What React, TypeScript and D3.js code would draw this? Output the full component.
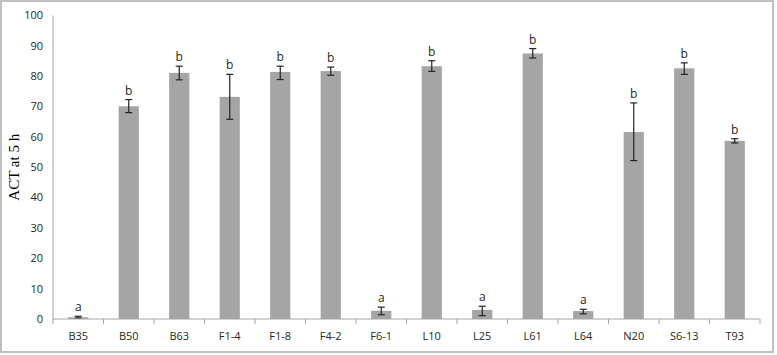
import React, { useEffect } from 'react';
import * as d3 from 'd3';

const categories = ['B35', 'B50', 'B63', 'F1-4', 'F1-8', 'F4-2', 'F6-1', 'L10', 'L25', 'L61', 'L64', 'N20', 'S6-13', 'T93'];
const means = [0.6, 70.1, 81.1, 73.2, 81.4, 81.7, 2.7, 83.3, 3.0, 87.5, 2.6, 61.6, 82.6, 58.7];
const errLow = [0.3, 68.0, 78.8, 65.8, 78.9, 80.3, 1.4, 81.6, 1.1, 86.0, 1.7, 52.2, 80.6, 58.0];
const errHigh = [0.9, 72.3, 83.3, 80.6, 83.3, 83.0, 3.9, 85.1, 4.2, 89.1, 3.2, 71.2, 84.4, 59.4];
const letters = ['a', 'b', 'b', 'b', 'b', 'b', 'a', 'b', 'a', 'b', 'a', 'b', 'b', 'b'];
const yTicks = [0, 10, 20, 30, 40, 50, 60, 70, 80, 90, 100];

const W = 777;
const H = 355;
const margin = { left: 53, right: 17, top: 15.5, bottom: 36 };

export default function App() {
  useEffect(() => {
    document.body.style.margin = '0';
  }, []);

  const x = d3.scaleBand<string>()
    .domain(categories)
    .range([margin.left, W - margin.right])
    .paddingInner(0.6)
    .paddingOuter(0.3);
  const y = d3.scaleLinear().domain([0, 100]).range([H - margin.bottom, margin.top]);

  const step = x.step();
  const x0 = margin.left;
  const x1 = W - margin.right;
  const y0 = y(0);
  const axisColor = '#a6a6a6';
  const sans = '"Open Sans", "Noto Sans", sans-serif';

  return (
    <svg width={W} height={H} style={{ display: 'block' }}>
      <rect x={0} y={0} width={W} height={H} fill="#fff" />
      <rect x={1} y={1} width={772} height={351} fill="none" stroke="#bfbfbf" strokeWidth={2} />

      {/* bars */}
      {categories.map((c, i) => (
        <rect key={c} x={x(c)} y={y(means[i])} width={x.bandwidth()} height={y0 - y(means[i])} fill="#a5a5a5" />
      ))}

      {/* error bars */}
      {categories.map((c, i) => {
        const cx = (x(c) as number) + x.bandwidth() / 2;
        return (
          <g key={c} stroke="#222" strokeWidth={1.2}>
            <line x1={cx} x2={cx} y1={y(errLow[i])} y2={y(errHigh[i])} />
            <line x1={cx - 3.5} x2={cx + 3.5} y1={y(errLow[i])} y2={y(errLow[i])} />
            <line x1={cx - 3.5} x2={cx + 3.5} y1={y(errHigh[i])} y2={y(errHigh[i])} />
          </g>
        );
      })}

      {/* significance letters */}
      {categories.map((c, i) => (
        <text key={c} x={(x(c) as number) + x.bandwidth() / 2} y={y(errHigh[i]) - 5}
          textAnchor="middle" fontFamily={sans} fontSize={12} fill="#262626">{letters[i]}</text>
      ))}

      {/* y axis */}
      <line x1={x0} x2={x0} y1={y(100)} y2={y0} stroke={axisColor} strokeWidth={1} />
      {yTicks.map(t => (
        <text key={t} x={43} y={y(t)} dy="0.35em" textAnchor="end" fontFamily={sans} fontSize={11} fill="#262626">{t}</text>
      ))}

      {/* x axis */}
      <line x1={x0} x2={x1} y1={y0} y2={y0} stroke={axisColor} strokeWidth={1} />
      {d3.range(categories.length + 1).map(k => (
        <line key={k} x1={x0 + k * step} x2={x0 + k * step} y1={y0} y2={y0 + 5} stroke={axisColor} strokeWidth={1} />
      ))}
      {categories.map(c => (
        <text key={c} x={(x(c) as number) + x.bandwidth() / 2} y={y0 + 17} dy="0.35em"
          textAnchor="middle" fontFamily={sans} fontSize={11} fill="#262626">{c}</text>
      ))}

      <text transform={`translate(14,${(margin.top + y0) / 2}) rotate(-90)`} textAnchor="middle"
        dy="0.35em" fontFamily='"Liberation Serif", "DejaVu Serif", serif' fontSize={15} fill="#000">ACT at 5 h</text>
    </svg>
  );
}
